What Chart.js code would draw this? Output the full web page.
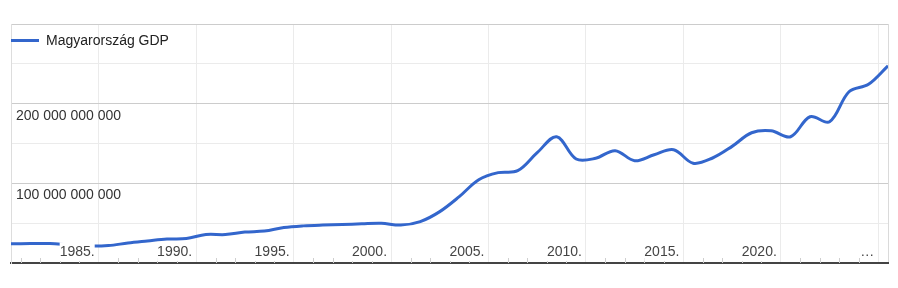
<!DOCTYPE html>
<html>
<head>
<meta charset="utf-8">
<script src="https://cdn.jsdelivr.net/npm/chart.js@4"></script>
<style>
  html, body { margin: 0; padding: 0; background: #fff; }
  #wrap { position: relative; width: 898px; height: 288px; }
  #legend {
    position: absolute; left: 11px; top: 32px;
    display: flex; align-items: center; height: 16px;
    font: 14px "Liberation Sans", Arial, sans-serif; color: #222;
  }
  #legend .swatch { width: 28px; height: 3px; background: #3366cc; margin-right: 7px; }
</style>
</head>
<body>
<div id="wrap">
  <canvas id="gdpChart" width="898" height="288"></canvas>
  <div id="legend"><span class="swatch"></span><span>Magyarország GDP</span></div>
</div>
<script>
const years = [1980, 1981, 1982, 1983, 1984, 1985, 1986, 1987, 1988, 1989,
  1990, 1991, 1992, 1993, 1994, 1995, 1996, 1997, 1998, 1999,
  2000, 2001, 2002, 2003, 2004, 2005, 2006, 2007, 2008, 2009,
  2010, 2011, 2012, 2013, 2014, 2015, 2016, 2017, 2018, 2019,
  2020, 2021, 2022, 2023, 2024, 2025];

// GDP in billions (milliárd)
const gdpBillions = [24.1, 24.4, 24.4, 22.6, 21.3, 21.9, 25.1, 27.6, 30.0, 30.7,
  35.7, 35.7, 38.8, 40.1, 44.5, 46.6, 47.6, 48.2, 49.2, 49.9,
  47.6, 52.0, 64.5, 83.3, 104.6, 113.4, 115.9, 138.5, 158.5, 130.5,
  131.5, 141.0, 128.4, 135.9, 142.2, 125.3, 131.8, 146.4, 163.5, 166.0,
  158.5, 183.6, 177.3, 215.0, 224.3, 247.5];

const xTickYears = [1984.5, 1989.5, 1994.5, 1999.5, 2004.5, 2009.5, 2014.5, 2019.5, 2024.5, 2025];
const xTickLabels = ['1985.', '1990.', '1995.', '2000.', '2005.', '2010.', '2015.', '2020.', '…'];
const yLabelled = [100e9, 200e9];

Chart.defaults.font.family = '"Liberation Sans", Arial, sans-serif';
Chart.defaults.font.size = 14;

const points = years.map((y, i) => ({ x: y, y: gdpBillions[i] * 1e9 }));

function formatBig(v) {
  return String(Math.round(v)).replace(/\B(?=(\d{3})+(?!\d))/g, ' ');
}

// small year ticks sitting on the axis, inside the plot
const minorTicks = {
  id: 'minorTicks',
  beforeDatasetsDraw(chart) {
    const { ctx, chartArea, scales } = chart;
    ctx.save();
    ctx.strokeStyle = '#cfcfcf';
    ctx.lineWidth = 1;
    years.forEach(y => {
      if (y % 5 === 4 || y === 2025) return;
      const px = Math.round(scales.x.getPixelForValue(y + 0.5)) + 0.5;
      ctx.beginPath();
      ctx.moveTo(px, chartArea.bottom - 5);
      ctx.lineTo(px, chartArea.bottom);
      ctx.stroke();
    });
    ctx.restore();
  }
};

const gdpChart = new Chart(document.getElementById('gdpChart'), {
  type: 'line',
  data: {
    datasets: [{
      label: 'Magyarország GDP',
      data: points,
      borderColor: '#3366cc',
      backgroundColor: '#3366cc',
      borderWidth: 3,
      pointRadius: 0,
      tension: 0.35,
      fill: false
    }]
  },
  options: {
    responsive: false,
    animation: false,
    layout: { padding: { left: 11, right: 10, top: 24, bottom: 25 } },
    plugins: {
      legend: { display: false },
      tooltip: { enabled: false }
    },
    scales: {
      x: {
        type: 'linear',
        min: 1980,
        max: 2025,
        afterBuildTicks(scale) {
          scale.ticks = xTickYears.map(v => ({ value: v }));
        },
        afterFit(scale) { scale.height = 0; },
        grid: {
          drawTicks: false,
          color: ctx => (ctx.tick && ctx.tick.value === 2025 ? '#dadada' : '#ebebeb')
        },
        border: { color: '#444', width: 2 },
        ticks: {
          autoSkip: false,
          maxRotation: 0,
          mirror: true, // labels go inside the plot, above the axis line
          align: 'end',
          labelOffset: -4,
          padding: 2,
          color: '#444',
          z: 1,
          showLabelBackdrop: true,
          backdropColor: '#fff',
          backdropPadding: { top: 2, bottom: 0, left: 0, right: 0 },
          callback: (value, index) => (index < xTickLabels.length ? xTickLabels[index] : '')
        }
      },
      y: {
        min: 0,
        max: 300e9,
        afterFit(scale) { scale.width = 0; },
        grid: {
          drawTicks: false,
          color: ctx => (ctx.tick && ctx.tick.value % 100e9 === 0 ? '#cccccc' : '#ebebeb')
        },
        border: { color: '#dddddd', width: 1 },
        ticks: {
          stepSize: 50e9,
          mirror: true,
          padding: 5,
          labelOffset: 12,
          color: '#333',
          callback: v => (yLabelled.includes(v) ? formatBig(v) : '')
        }
      }
    }
  },
  plugins: [minorTicks]
});
</script>
</body>
</html>
